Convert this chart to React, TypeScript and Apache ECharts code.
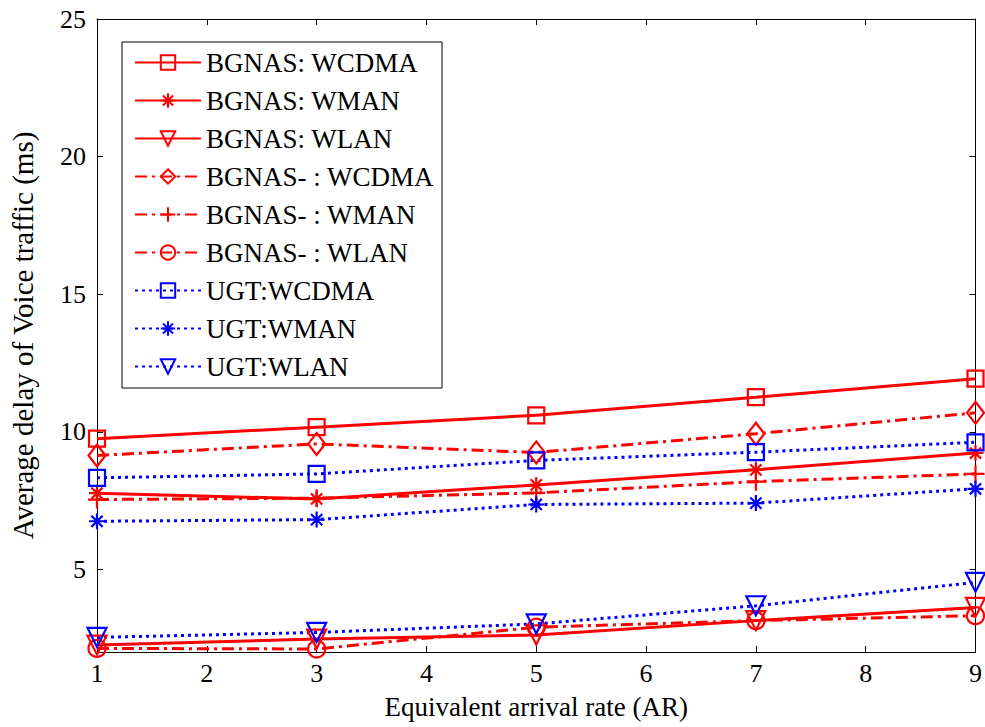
import React, { useEffect, useRef } from "react";
import * as echarts from "echarts";

const xValues = [1, 3, 5, 7, 9];
const seriesNames = [
  "BGNAS: WCDMA",
  "BGNAS: WMAN",
  "BGNAS: WLAN",
  "BGNAS- : WCDMA",
  "BGNAS- : WMAN",
  "BGNAS- : WLAN",
  "UGT:WCDMA",
  "UGT:WMAN",
  "UGT:WLAN",
];
const bgnasWcdma = [9.75, 10.17, 10.6, 11.26, 11.93];
const bgnasWman = [7.77, 7.56, 8.07, 8.62, 9.23];
const bgnasWlan = [2.25, 2.47, 2.62, 3.14, 3.62];
const bgnasMWcdma = [9.14, 9.56, 9.25, 9.93, 10.69];
const bgnasMWman = [7.54, 7.59, 7.78, 8.19, 8.47];
const bgnasMWlan = [2.13, 2.11, 2.9, 3.14, 3.32];
const ugtWcdma = [8.33, 8.47, 8.96, 9.26, 9.62];
const ugtWman = [6.75, 6.81, 7.36, 7.41, 7.93];
const ugtWlan = [2.53, 2.71, 3.02, 3.68, 4.53];
const yTicks = [5, 10, 15, 20, 25];

const RED = "#ff0000";
const BLUE = "#0000ff";
const FONT = "'Liberation Serif', 'Times New Roman', serif";

const STAR = "path://M0,-10L0,10M-10,0L10,0M-7,-7L7,7M-7,7L7,-7";
const PLUS = "path://M0,-10L0,10M-10,0L10,0";

function mk(name: string, data: number[], color: string, dash: any, symbol: string, size: any, rotate = 0) {
  return {
    name,
    type: "line",
    data: xValues.map((x, i) => [x, data[i]]),
    symbol,
    symbolSize: size,
    symbolRotate: rotate,
    lineStyle: { color, width: 3, type: dash === "dotted" ? [3, 4] : dash },
    itemStyle: { color: "rgba(0,0,0,0)", borderColor: color, borderWidth: 2.2 },
    emphasis: { disabled: true },
  };
}

export default function App() {
  const ref = useRef<HTMLDivElement>(null);
  useEffect(() => {
    const chart = echarts.init(ref.current!, null, { renderer: "svg" });
    const dashdot = [12, 5, 3, 5];
    const axisCommon = {
      axisLine: { show: true, onZero: false, lineStyle: { color: "#000", width: 1 } },
      splitLine: { show: false },
    };
    chart.setOption({
      animation: false,
      backgroundColor: "#fff",
      grid: { left: 85, right: 8, top: 19, bottom: 75, containLabel: false },
      xAxis: [
        {
          type: "value",
          min: 1,
          max: 9,
          interval: 1,
          name: "Equivalent arrival rate (AR)",
          nameLocation: "middle",
          nameGap: 41,
          nameTextStyle: { fontFamily: FONT, fontSize: 27, color: "#000" },
          ...axisCommon,
          axisTick: { show: true, inside: true, length: 6, lineStyle: { color: "#000" } },
          axisLabel: { fontFamily: FONT, fontSize: 26, color: "#000", margin: 8, showMaxLabel: true, showMinLabel: true },
        },
        {
          type: "value",
          min: 1,
          max: 9,
          interval: 1,
          position: "top",
          ...axisCommon,
          axisTick: { show: true, inside: true, length: 6, lineStyle: { color: "#000" } },
          axisLabel: { show: false },
        },
      ],
      yAxis: [
        {
          type: "value",
          min: 2,
          max: 25,
          name: "Average delay of Voice traffic (ms)",
          nameLocation: "middle",
          nameGap: 60,
          nameTextStyle: { fontFamily: FONT, fontSize: 29, color: "#000" },
          ...axisCommon,
          axisTick: { show: true, inside: true, length: 6, customValues: yTicks, lineStyle: { color: "#000" } },
          axisLabel: { fontFamily: FONT, fontSize: 26, color: "#000", margin: 11, customValues: yTicks },
        },
        {
          type: "value",
          min: 2,
          max: 25,
          position: "right",
          ...axisCommon,
          axisTick: { show: true, inside: true, length: 6, customValues: yTicks, lineStyle: { color: "#000" } },
          axisLabel: { show: false },
        },
      ],
      legend: {
        orient: "vertical",
        left: 122,
        top: 42,
        padding: [7, 8, 8, 12],
        itemGap: 11,
        itemWidth: 66,
        itemHeight: 18,
        backgroundColor: "#fff",
        borderColor: "#000",
        borderWidth: 1,
        borderRadius: 0,
        data: seriesNames,
        textStyle: { fontFamily: FONT, fontSize: 27, color: "#000" },
      },
      series: [
        mk(seriesNames[0], bgnasWcdma, RED, "solid", "rect", 16),
        mk(seriesNames[1], bgnasWman, RED, "solid", STAR, 16),
        mk(seriesNames[2], bgnasWlan, RED, "solid", "triangle", 19, 180),
        mk(seriesNames[3], bgnasMWcdma, RED, dashdot, "diamond", [17, 22]),
        mk(seriesNames[4], bgnasMWman, RED, dashdot, PLUS, 18),
        mk(seriesNames[5], bgnasMWlan, RED, dashdot, "circle", 17),
        mk(seriesNames[6], ugtWcdma, BLUE, "dotted", "rect", 16),
        mk(seriesNames[7], ugtWman, BLUE, "dotted", STAR, 16),
        mk(seriesNames[8], ugtWlan, BLUE, "dotted", "triangle", 19, 180),
      ],
    });
    return () => chart.dispose();
  }, []);
  return <div ref={ref} style={{ position: "fixed", left: 0, top: 0, width: 985, height: 727 }} />;
}
